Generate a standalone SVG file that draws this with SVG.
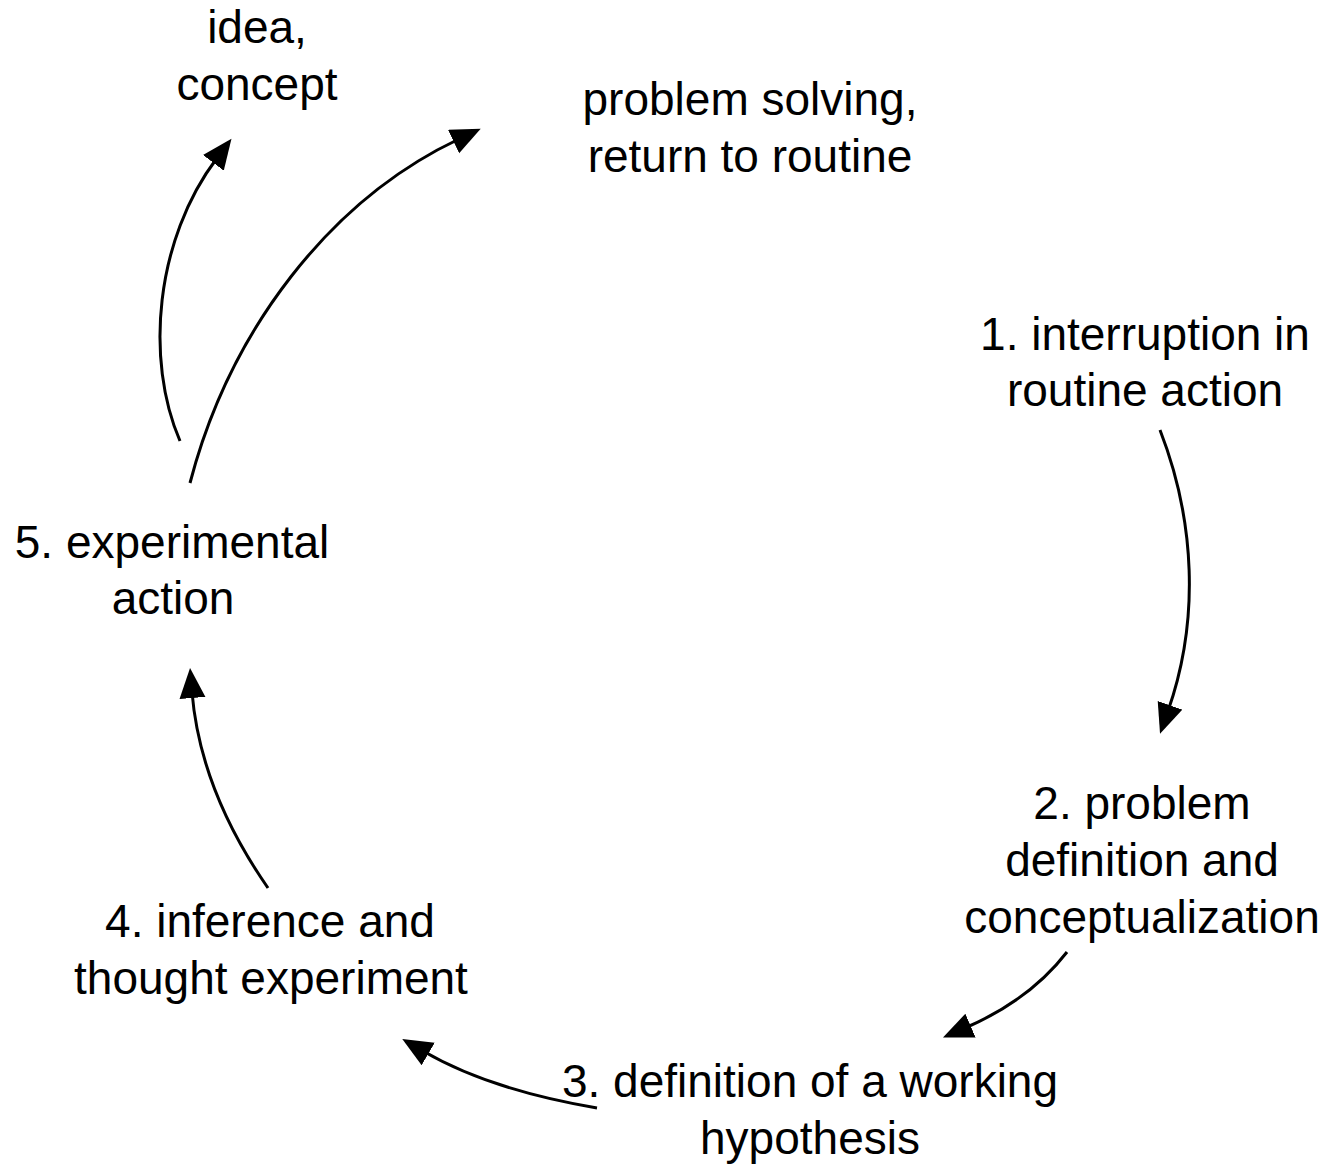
<svg xmlns="http://www.w3.org/2000/svg" width="1329" height="1164" viewBox="0 0 1329 1164">
<style>
text{font-family:"Liberation Sans",Arial,sans-serif;font-size:46px;fill:#000;text-anchor:middle}
.c{fill:none;stroke:#000;stroke-width:3}
</style>
<defs>
<marker id="ah" markerUnits="userSpaceOnUse" markerWidth="32" markerHeight="28" refX="6" refY="13" orient="auto">
<path d="M0,0 L30,13 L0,26 z" fill="#000"/>
</marker>
</defs>
<rect width="1329" height="1164" fill="#fff"/>
<g id="connectors">
<path class="c" d="M1160,430 C1195,520 1200,620 1168,711" marker-end="url(#ah)"/>
<path class="c" d="M1067,952 Q1030,1000 965,1028" marker-end="url(#ah)"/>
<path class="c" d="M597,1108 Q490,1090 423,1051" marker-end="url(#ah)"/>
<path class="c" d="M268,888 Q200,790 192,692" marker-end="url(#ah)"/>
<path class="c" d="M180,441 C145,360 155,240 217,158" marker-end="url(#ah)"/>
<path class="c" d="M190,483 C230,330 330,200 459,139" marker-end="url(#ah)"/>
</g>
<g id="idea"><text x="257" y="43">idea,</text><text x="257" y="100">concept</text></g>
<g id="solving"><text x="750" y="115">problem solving,</text><text x="750" y="172">return to routine</text></g>
<g id="n1"><text x="1145" y="350">1. interruption in</text><text x="1145" y="406">routine action</text></g>
<g id="n2"><text x="1142" y="819">2. problem</text><text x="1142" y="876">definition and</text><text x="1142" y="933">conceptualization</text></g>
<g id="n3"><text x="810" y="1097">3. definition of a working</text><text x="810" y="1154">hypothesis</text></g>
<g id="n4"><text x="270" y="937">4. inference and</text><text x="271" y="994">thought experiment</text></g>
<g id="n5"><text x="172" y="558">5. experimental</text><text x="173" y="614">action</text></g>
</svg>
